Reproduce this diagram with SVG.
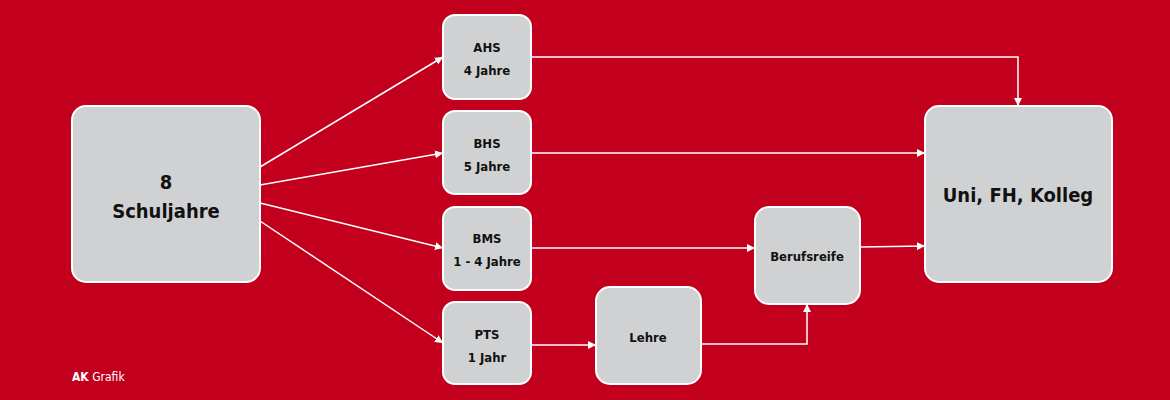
<svg xmlns="http://www.w3.org/2000/svg" width="1170" height="400" viewBox="0 0 1170 400">
<style>
.n{fill:#d0d1d3;stroke:#ffffff;stroke-width:2}
.t{font-family:"DejaVu Sans Condensed","DejaVu Sans",sans-serif;font-weight:bold;fill:#111;text-anchor:middle}
.s{font-size:13px}
.b{font-size:20px}
.c{stroke:#ffffff;stroke-width:1.5;fill:none;marker-end:url(#a)}
</style>
<defs><marker id="a" viewBox="0 0 10 10" refX="10" refY="5" markerWidth="8" markerHeight="8" markerUnits="userSpaceOnUse" orient="auto"><path d="M0,0L10,5L0,10z" fill="#ffffff"/></marker></defs>
<rect width="1170" height="400" fill="#c2001d"/>
<g id="connectors">
<path class="c" d="M260,167L443,57"/>
<path class="c" d="M260,185L443,153"/>
<path class="c" d="M260,203L443,248"/>
<path class="c" d="M260,221L443,343"/>
<path class="c" d="M531,57H1018V106"/>
<path class="c" d="M531,153H925"/>
<path class="c" d="M531,248H755"/>
<path class="c" d="M860,247L925,246"/>
<path class="c" d="M531,345H596"/>
<path class="c" d="M701,344H807V304"/>
</g>
<g id="schuljahre"><rect class="n" x="72" y="106" width="188" height="176" rx="14"/><text class="t b" x="166" y="189">8</text><text class="t b" x="166" y="218">Schuljahre</text></g>
<g id="ahs"><rect class="n" x="443" y="15" width="88" height="84" rx="12"/><text class="t s" x="487" y="52">AHS</text><text class="t s" x="487" y="75">4 Jahre</text></g>
<g id="bhs"><rect class="n" x="443" y="111" width="88" height="83" rx="12"/><text class="t s" x="487" y="148">BHS</text><text class="t s" x="487" y="171">5 Jahre</text></g>
<g id="bms"><rect class="n" x="443" y="207" width="88" height="83" rx="12"/><text class="t s" x="487" y="243">BMS</text><text class="t s" x="487" y="266">1 - 4 Jahre</text></g>
<g id="pts"><rect class="n" x="443" y="302" width="88" height="82" rx="12"/><text class="t s" x="487" y="339">PTS</text><text class="t s" x="487" y="362">1 Jahr</text></g>
<g id="lehre"><rect class="n" x="596" y="287" width="105" height="97" rx="14"/><text class="t s" x="648" y="342">Lehre</text></g>
<g id="berufsreife"><rect class="n" x="755" y="207" width="105" height="97" rx="14"/><text class="t s" x="807" y="261">Berufsreife</text></g>
<g id="uni"><rect class="n" x="925" y="106" width="187" height="176" rx="14"/><text class="t b" x="1018" y="202">Uni, FH, Kolleg</text></g>
<text x="72" y="381" font-family="DejaVu Sans Condensed, DejaVu Sans, sans-serif" font-size="12" fill="#fff"><tspan font-weight="bold">AK</tspan> Grafik</text>
</svg>
